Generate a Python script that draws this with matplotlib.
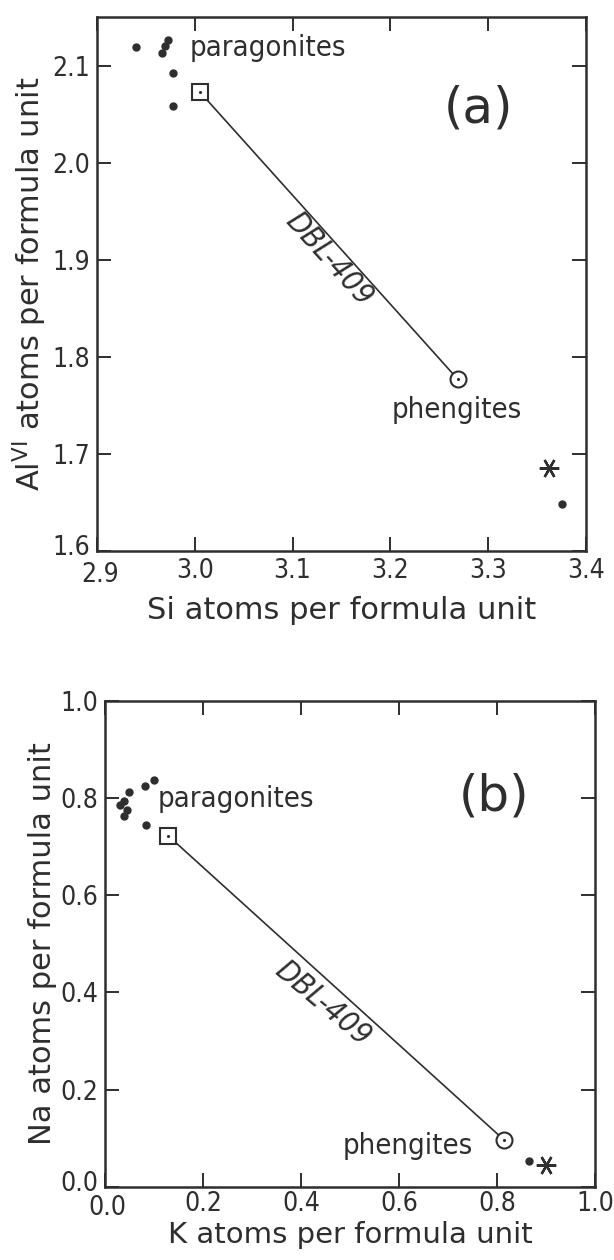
import matplotlib
matplotlib.use("Agg")
import matplotlib.pyplot as plt
import matplotlib.transforms as mtransforms

# ---------------- data ----------------
# panel (a): Si vs Al(VI)
a_par_si = [2.940, 2.966, 2.970, 2.973, 2.978, 2.978]
a_par_al = [2.119, 2.113, 2.120, 2.126, 2.092, 2.058]
a_dbl_si = [3.005, 3.269]
a_dbl_al = [2.073, 1.777]
a_star_si, a_star_al = [3.362], [1.686]
a_dot_si, a_dot_al = [3.376], [1.648]
a_xticks = [2.9, 3.0, 3.1, 3.2, 3.3, 3.4]
a_yticks = [1.6, 1.7, 1.8, 1.9, 2.0, 2.1]

# panel (b): K vs Na
b_par_k = [0.048, 0.038, 0.030, 0.045, 0.038, 0.082, 0.100, 0.084]
b_par_na = [0.813, 0.794, 0.786, 0.774, 0.763, 0.825, 0.837, 0.745]
b_dbl_k = [0.129, 0.814]
b_dbl_na = [0.722, 0.097]
b_star_k, b_star_na = [0.901], [0.046]
b_dot_k, b_dot_na = [0.866], [0.054]
b_ticks = [0.0, 0.2, 0.4, 0.6, 0.8, 1.0]

INK = "#2e2e2e"
plt.rcParams['font.family'] = ['DejaVu Sans']

fig = plt.figure(figsize=(6.14, 12.6), dpi=100)
fig.patch.set_facecolor("white")
ax1 = fig.add_axes([0.158, 0.5627, 0.796, 0.4238])
ax2 = fig.add_axes([0.171, 0.0580, 0.798, 0.386])

ASTER = (6, 2, 30)

def style(ax, pad=5):
    for s in ax.spines.values():
        s.set_linewidth(1.8)
        s.set_color(INK)
    ax.tick_params(direction='in', length=10, width=1.4, top=True, right=True,
                   colors=INK, labelsize=19, pad=5)
    ax.tick_params(axis='x', pad=pad)
    for lab in ax.get_xticklabels() + ax.get_yticklabels():
        lab.set_fontstretch('condensed')

def draw(ax, px, py, dx, dy, sx, sy, ox, oy):
    ax.plot(px, py, 'o', ms=5, color=INK, zorder=3)
    ax.plot(dx, dy, '-', color=INK, lw=1.2, zorder=2)
    ax.plot(dx[:1], dy[:1], 's', ms=11.5, mfc='white', mec=INK, mew=1.5, zorder=3)
    ax.plot(dx[1:], dy[1:], 'o', ms=11.5, mfc='white', mec=INK, mew=1.5, zorder=3)
    ax.plot(dx, dy, '.', ms=2.5, color=INK, zorder=4)
    ax.plot(sx, sy, marker=ASTER, ls='none', ms=14, color=INK, mew=1.7, zorder=3)
    ax.plot(ox, oy, 'o', ms=5, color=INK, zorder=3)

LAB = 22
ANN = 21

# ---- panel a ----
draw(ax1, a_par_si, a_par_al, a_dbl_si, a_dbl_al, a_star_si, a_star_al, a_dot_si, a_dot_al)
ax1.set_xlim(2.9, 3.4)
ax1.set_ylim(1.6, 2.15)
ax1.set_xticks(a_xticks)
ax1.set_xticklabels([f"{v:.1f}" for v in a_xticks])
ax1.set_yticks(a_yticks)
ax1.set_yticklabels([f"{v:.1f}" for v in a_yticks])
style(ax1)
ax1.set_xlabel('Si atoms per formula unit', fontsize=LAB, color=INK, labelpad=6)
ax1.set_ylabel(r'Al$^{\mathregular{VI}}$ atoms per formula unit', fontsize=LAB,
               color=INK, labelpad=2)
ax1.text(2.995, 2.118, 'paragonites', fontsize=ANN, color=INK, va='center',
         ha='left', fontstretch='condensed')
ax1.text(3.268, 1.745, 'phengites', fontsize=ANN, color=INK, va='center',
         ha='center', fontstretch='condensed')
ax1.text(3.29, 2.056, '(a)', fontsize=36, color=INK, va='center', ha='center')
ax1.text(3.137, 1.901, 'DBL-409', fontsize=22, color=INK, va='center', ha='center',
         rotation=-48, style='italic', fontstretch='condensed', rotation_mode='anchor')

# ---- panel b ----
draw(ax2, b_par_k, b_par_na, b_dbl_k, b_dbl_na, b_star_k, b_star_na, b_dot_k, b_dot_na)
ax2.set_xlim(0, 1.0)
ax2.set_ylim(0, 1.0)
ax2.set_xticks(b_ticks)
ax2.set_xticklabels([f"{v:.1f}" for v in b_ticks])
ax2.set_yticks(b_ticks)
ax2.set_yticklabels([f"{v:.1f}" for v in b_ticks])
style(ax2, pad=3)
ax2.set_xlabel('K atoms per formula unit', fontsize=21, color=INK, labelpad=0)
ax2.set_ylabel('Na atoms per formula unit', fontsize=LAB, color=INK, labelpad=2)
ax2.text(0.108, 0.798, 'paragonites', fontsize=ANN, color=INK, va='center',
         ha='left', fontstretch='condensed')
ax2.text(0.618, 0.085, 'phengites', fontsize=ANN, color=INK, va='center',
         ha='center', fontstretch='condensed')
ax2.text(0.795, 0.802, '(b)', fontsize=36, color=INK, va='center', ha='center')
ax2.text(0.444, 0.377, 'DBL-409', fontsize=22, color=INK, va='center', ha='center',
         rotation=-40, style='italic', fontstretch='condensed', rotation_mode='anchor')

# corner labels: lift the lowest y label, drop / shift the first x label a little
for ax in (ax1, ax2):
    ylab0 = ax.get_yticklabels()[0]
    ylab0.set_transform(ylab0.get_transform() +
                        mtransforms.ScaledTranslation(0, 4 / 72, fig.dpi_scale_trans))
    xlab0 = ax.get_xticklabels()[0]
    xlab0.set_transform(xlab0.get_transform() +
                        mtransforms.ScaledTranslation(2 / 72, -3 / 72, fig.dpi_scale_trans))

fig.savefig("out.png", dpi=100, facecolor="white")
